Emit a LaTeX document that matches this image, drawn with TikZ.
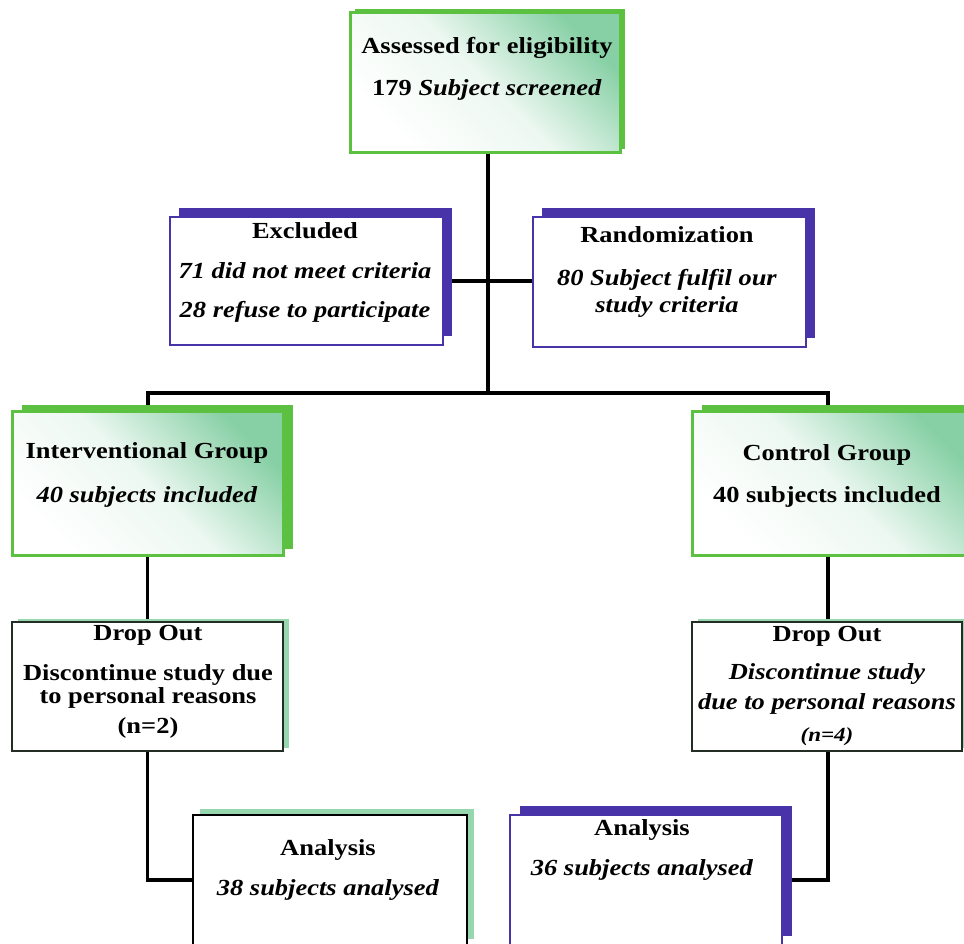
\documentclass[tikz,border=0pt]{standalone}
\usepackage{fontspec}
\setmainfont{Liberation Serif}[FakeStretch=1.15]
\usetikzlibrary{shadows,backgrounds}

\definecolor{gline}{RGB}{92,192,64}
\definecolor{gfill}{RGB}{135,208,165}
\definecolor{bline}{RGB}{72,52,168}
\definecolor{dline}{RGB}{35,45,35}
\definecolor{mint}{RGB}{150,215,175}

\begin{document}
\begin{tikzpicture}[x=1pt,y=-1pt,
  box/.style={draw, rectangle, inner sep=0pt},
  gbox/.style n args={2}{box, draw=gline, line width=3pt,
    top color=white, bottom color=gfill, middle color=white!85!gfill, shading angle=135,
    drop shadow={shadow xshift=#1, shadow yshift=#2, fill=gline, opacity=1}},
  bbox/.style n args={2}{box, draw=bline, line width=2.6pt, fill=white,
    drop shadow={shadow xshift=#1, shadow yshift=#2, fill=bline, opacity=1}},
  dbox/.style n args={2}{box, draw=dline, line width=2.8pt, fill=white,
    drop shadow={shadow xshift=#1, shadow yshift=#2, fill=mint, opacity=1}},
  conn/.style={draw=black, line width=3.2pt},
  txt/.style={align=center, inner sep=0pt, font=\fontsize{23}{27}\selectfont\bfseries}
]
\useasboundingbox (0,0) rectangle (964,943);
\clip (0,0) rectangle (964,943);

% boxes
\node[gbox={5pt}{3pt}, minimum width=270, minimum height=140] (assess) at (485,82) {};
\node[bbox={9pt}{9pt}, minimum width=273, minimum height=128] (excl) at (306.5,281) {};
\node[bbox={9pt}{9pt}, minimum width=273, minimum height=130] (rand) at (669.5,282) {};
\node[gbox={10pt}{6pt}, minimum width=271, minimum height=144] (interv) at (147.5,483) {};
\node[gbox={10pt}{6pt}, minimum width=284, minimum height=144] (ctrl) at (834,483) {};
\node[dbox={6pt}{3pt}, minimum width=271, minimum height=129] (drop1) at (147.5,686.5) {};
\node[dbox={6pt}{3pt}, minimum width=270, minimum height=129] (drop2) at (827,686.5) {};
\node[dbox={7pt}{6pt}, draw=black, minimum width=274, minimum height=130] (an1) at (330,880) {};
\node[bbox={10pt}{9pt}, minimum width=272, minimum height=130] (an2) at (646,880) {};

% junction coordinates
\coordinate (hub) at (488,393);
\coordinate (L) at (148,393);
\coordinate (R) at (828,393);

% connectors
\begin{pgfonlayer}{background}
\draw[conn] (hub |- assess.south) -- (hub);
\draw[conn] (excl.east) -- (excl.east -| rand.west);
\draw[conn] (L |- interv.north) -- (L) -- (R) -- (R |- ctrl.north);
\draw[conn] (interv.south) -- (drop1.north);
\draw[conn] (R |- ctrl.south) -- (R |- drop2.north);
\draw[conn] (drop1.south) |- (an1.west);
\draw[conn] (R |- drop2.south) |- (an2.east);
\end{pgfonlayer}

% texts
\node[txt] (tassess) at (487,69) {Assessed for eligibility\\[15pt]179 \textit{Subject screened}};
\node[txt] (texcl) at (305,272.5) {Excluded\\[13pt]\textit{71 did not meet criteria}\\[12pt]\textit{28 refuse to participate}};
\node[txt] (trand) at (667,272) {Randomization\\[16pt]\textit{80 Subject fulfil our}\\\textit{study criteria}};
\node[txt] (tinterv) at (147,475) {Interventional Group\\[17pt]\textit{40 subjects included}};
\node[txt] (tctrl) at (827,476) {Control Group\\[15pt]40 subjects included};
\node[txt] (tdrop1) at (148,681.5) {Drop Out\\[13pt]Discontinue study due\\[-4pt]to personal reasons\\[3pt](n=2)};
\node[txt] (tdrop2) at (827,686) {Drop Out\\[11pt]\textit{Discontinue study}\\[3pt]\textit{due to personal reasons}\\[5pt]{\fontsize{20}{22}\selectfont\textit{(n=4)}}};
\node[txt] (tan1) at (328,870) {Analysis\\[13pt]\textit{38 subjects analysed}};
\node[txt] (tan2) at (642,850) {Analysis\\[13pt]\textit{36 subjects analysed}};
\end{tikzpicture}
\end{document}
